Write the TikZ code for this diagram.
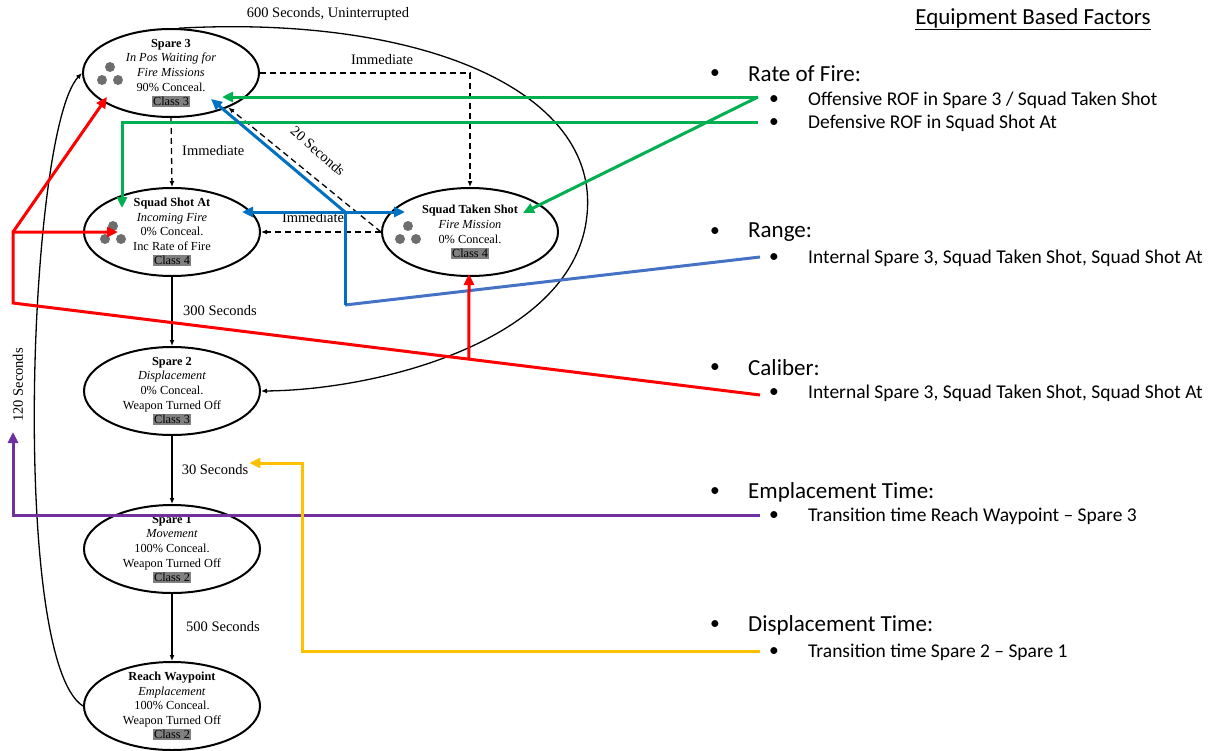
\documentclass[tikz,border=0pt]{standalone}
\usepackage{fontspec}
\setmainfont{Liberation Serif}
\newfontfamily\calib{Carlito}
\usetikzlibrary{shapes.geometric,arrows.meta,calc}

\definecolor{cgreen}{HTML}{00B050}
\definecolor{cblue}{HTML}{0070C0}
\definecolor{cblueb}{HTML}{4472C4}
\definecolor{cred}{HTML}{FF0000}
\definecolor{cpurple}{HTML}{7030A0}
\definecolor{cyellow}{HTML}{FFC000}
\definecolor{clsgray}{HTML}{808080}
\definecolor{dotgray}{HTML}{6E6E6E}

\newcommand\clsbox[1]{{\setlength\fboxsep{1pt}\colorbox{clsgray}{#1}}}

\begin{document}
\begin{tikzpicture}[x=1pt,y=-1pt,
  state/.style={ellipse, draw, line width=2pt, minimum width=176pt,
    minimum height=88pt, inner sep=0pt},
  stxt/.style={align=center, font=\fontsize{12.3}{14.6}\selectfont, inner sep=0pt},
  lbl/.style={font=\fontsize{14.5}{16}\selectfont, inner sep=1pt},
  flow/.style={line width=1.3pt, -{Latex[length=6pt,width=5pt]}},
  dflow/.style={flow, dash pattern=on 6pt off 4pt},
  fac/.style={line width=3pt, line join=miter},
  tip/.style={-{Triangle[length=11pt,width=10pt]}},
  head/.style={anchor=west, inner sep=0pt, font=\calib\fontsize{23}{27}\selectfont},
  sub/.style={anchor=west, inner sep=0pt, font=\calib\fontsize{19.5}{23}\selectfont},
  bul/.style={inner sep=0pt, font=\calib\fontsize{19.5}{23}\selectfont}
]
\useasboundingbox (0,0) rectangle (1220,750);

% ---------- states ----------
\node[state] (s3)  at (171,73)  {};
\node[state] (ssa) at (172,232) {};
\node[state] (sts) at (470,232) {};
\node[state] (s2)  at (172,391) {};
\node[state] (s1)  at (172,549) {};
\node[state] (rw)  at (172,706) {};

\node[stxt] (s3t) at (s3) {\textbf{Spare 3}\\\textit{In Pos Waiting for}\\\textit{Fire Missions}\\90\% Conceal.\\\clsbox{Class 3}};
\node[stxt] (ssat) at (ssa) {\textbf{Squad Shot At}\\\textit{Incoming Fire}\\0\% Conceal.\\Inc Rate of Fire\\\clsbox{Class 4}};
\node[stxt] (stst) at (sts) {\textbf{Squad Taken Shot}\\\textit{Fire Mission}\\0\% Conceal.\\\clsbox{Class 4}};
\node[stxt] (s2t) at (s2) {\textbf{Spare 2}\\\textit{Displacement}\\0\% Conceal.\\Weapon Turned Off\\\clsbox{Class 3}};
\node[stxt] (s1t) at (s1) {\textbf{Spare 1}\\\textit{Movement}\\100\% Conceal.\\Weapon Turned Off\\\clsbox{Class 2}};
\node[stxt] (rwt) at (rw) {\textbf{Reach Waypoint}\\\textit{Emplacement}\\100\% Conceal.\\Weapon Turned Off\\\clsbox{Class 2}};

% weapon markers
\foreach \n/\dx/\dy in {s3/0/0, ssa/2/0, sts/-1/0}{
  \fill[dotgray] ($(\n)+(-61+\dx,-6+\dy)$) circle (5pt);
  \fill[dotgray] ($(\n)+(-69+\dx,7+\dy)$) circle (5pt);
  \fill[dotgray] ($(\n)+(-53+\dx,7+\dy)$) circle (5pt);
}

% ---------- transitions ----------
\draw[dflow] (s3.south) -- (ssa.north);
\draw[dflow] (s3.east) -| (sts.north);
\draw[dflow] (sts.west) -- (s3.-31);
\draw[dflow] (sts.west) -- (ssa.east);
\draw[flow] (ssa.south) -- (s2.north);
\draw[flow] (s2.south) -- (s1.north);
\draw[flow] (s1.south) -- (rw.north);
\draw[flow] (s3.80) .. controls (420,15) and (600,90) .. (587,215)
            .. controls (575,340) and (380,390) .. (s2.east);
\draw[flow] (rw.west) .. controls (10,660) and (28,130) .. (s3.west);

\node[lbl] (l600) at (328,14) {600 Seconds, Uninterrupted};
\node[lbl] (limt) at (382,60) {Immediate};
\node[lbl, anchor=west] (limv) at (181,151) {Immediate};
\node[lbl, rotate=-41] (l20) at (318,151) {20 Seconds};
\node[lbl] (limm) at (313,218) {Immediate};
\node[lbl] (l300) at (220,311) {300 Seconds};
\node[lbl] (l30)  at (215,470) {30 Seconds};
\node[lbl] (l500) at (223,627) {500 Seconds};
\node[lbl, rotate=90] (l120) at (18,385) {120 Seconds};

% ---------- factor list ----------
\node[inner sep=0pt, font=\calib\fontsize{23}{27}\selectfont] (title) at (1033,19) {\underline{Equipment Based Factors}};

\node[bul] (b1) at (715,74) {•};  \node[head] (h1) at (748,74) {Rate of Fire:};
\node[bul] (b1a) at (774,100) {•}; \node[sub] (t1a) at (808,100) {Offensive ROF in Spare 3 / Squad Taken Shot};
\node[bul] (b1b) at (774,123) {•}; \node[sub] (t1b) at (808,123) {Defensive ROF in Squad Shot At};

\node[bul] (b2) at (715,232) {•};  \node[head] (h2) at (748,232) {Range:};
\node[bul] (b2a) at (774,258) {•}; \node[sub] (t2a) at (808,258) {Internal Spare 3, Squad Taken Shot, Squad Shot At};

\node[bul] (b3) at (715,368) {•};  \node[head] (h3) at (748,368) {Caliber:};
\node[bul] (b3a) at (774,393) {•}; \node[sub] (t3a) at (808,393) {Internal Spare 3, Squad Taken Shot, Squad Shot At};

\node[bul] (b4) at (715,492) {•};  \node[head] (h4) at (748,492) {Emplacement Time:};
\node[bul] (b4a) at (774,516) {•}; \node[sub] (t4a) at (808,516) {Transition time Reach Waypoint – Spare 3};

\node[bul] (b5) at (715,625) {•};  \node[head] (h5) at (748,625) {Displacement Time:};
\node[bul] (b5a) at (774,652) {•}; \node[sub] (t5a) at (808,652) {Transition time Spare 2 – Spare 1};

% ---------- factor links ----------
\coordinate (gO) at (758,97);
\coordinate (gD) at (758,122);
\coordinate (bj) at (345,212);
\coordinate (bk) at (345,305);
\coordinate (bR) at (760,257);
\coordinate (rC) at (760,395);
\coordinate (rK) at (13,303);
\coordinate (rJ) at (13,232);
\coordinate (rT) at ($(rK)!0.6104!(rC)$);
\coordinate (pE) at (760,515);
\coordinate (pK) at (13,515);
\coordinate (pT) at (13,432);
\coordinate (yD) at (760,651);
\coordinate (yK) at (302,463);

% rate of fire
\draw[fac, cgreen, tip] (gO) -- ($(s3)+(51,24)$);
\draw[fac, cgreen, tip] (gO) -- ($(sts)+(53,-19)$);
\draw[fac, cgreen, tip] (gD) -| ($(ssa)+(-50,-24)$);

% range
\draw[fac, cblueb] (bR) -- (bk);
\draw[fac, cblue] (bk) -- (bj);
\draw[fac, cblue, tip] (bj) -- ($(s3)+(40,26)$);
\draw[fac, cblue, {Triangle[length=11pt,width=10pt]}-{Triangle[length=11pt,width=10pt]}]
  ($(ssa)+(70,-20)$) -- ($(sts)+(-65,-20)$);

% caliber
\draw[fac, cred, tip] (rC) -- (rK) -- (rJ) -- ($(ssa)+(-54,0)$);
\draw[fac, cred, tip] (rJ) -- ($(s3)+(-64,24)$);
\draw[fac, cred, tip] (rT) -- ($(sts)+(-1,42)$);

% emplacement time
\draw[fac, cpurple, tip] (pE) -- (pK) -- (pT);

% displacement time
\draw[fac, cyellow, tip] (yD) -| (yK) -- (yK -| l30.east);
\end{tikzpicture}
\end{document}
